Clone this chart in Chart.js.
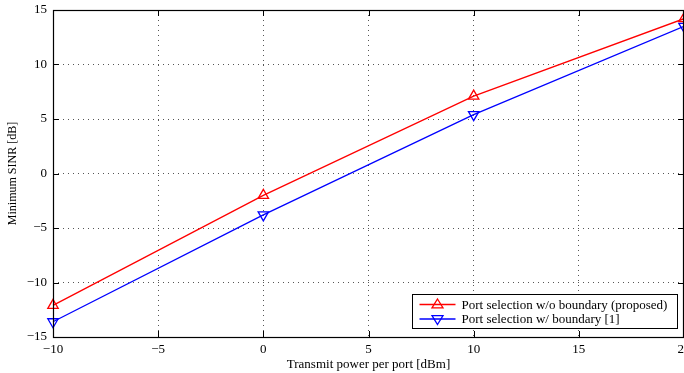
<!DOCTYPE html>
<html>
<head>
<meta charset="utf-8">
<script src="https://cdn.jsdelivr.net/npm/chart.js@4.4.0/dist/chart.umd.min.js"></script>
<style>
  html, body { margin: 0; padding: 0; background: #fff; }
  #wrap { width: 684px; height: 373px; }
</style>
</head>
<body>
<div id="wrap"><canvas id="myChart" width="684" height="373"></canvas></div>
<script>
// data
let powerDbm = [-10, 0, 10, 20];
let sinrProposed = [-12.1, -2.0, 7.1, 14.2];
let sinrBoundary = [-13.6, -3.8, 5.4, 13.5];
let xTicks = [-10, -5, 0, 5, 10, 15, 20];
let yTicks = [-15, -10, -5, 0, 5, 10, 15];

let serif = '"Liberation Serif", "Times New Roman", serif';
let minus = v => String(v).replace('-', '\u2212');

// MATLAB style box, inside ticks and legend
let matlabBox = {
    id: 'matlabBox',
    afterDraw(chart) {
        let ctx = chart.ctx;
        let a = chart.chartArea;
        let xs = chart.scales.x, ys = chart.scales.y;
        ctx.save();
        ctx.strokeStyle = '#000';
        ctx.lineWidth = 1;
        ctx.beginPath();
        xTicks.forEach(t => {
            let px = Math.round(xs.getPixelForValue(t)) + 0.5;
            ctx.moveTo(px, a.bottom); ctx.lineTo(px, a.bottom - 6);
            ctx.moveTo(px, a.top); ctx.lineTo(px, a.top + 6);
        });
        yTicks.forEach(t => {
            let py = Math.round(ys.getPixelForValue(t)) + 0.5;
            ctx.moveTo(a.left, py); ctx.lineTo(a.left + 6, py);
            ctx.moveTo(a.right, py); ctx.lineTo(a.right - 6, py);
        });
        ctx.stroke();
        ctx.lineWidth = 1.2;
        ctx.strokeRect(Math.round(a.left) + 0.5, Math.round(a.top) + 0.5,
            Math.round(a.right - a.left) - 1, Math.round(a.bottom - a.top));

        // legend
        let w = 265, h = 34;
        let lx = Math.round(a.right - 7 - w) + 0.5, ly = Math.round(a.bottom - 9 - h) + 0.5;
        ctx.fillStyle = '#fff';
        ctx.fillRect(lx, ly, w, h);
        ctx.lineWidth = 1;
        ctx.strokeRect(lx, ly, w, h);
        ctx.font = '13px ' + serif;
        ctx.textBaseline = 'middle';
        chart.data.datasets.forEach((ds, i) => {
            let ry = ly + 10 + i * 14.5;
            ctx.strokeStyle = ds.borderColor;
            ctx.lineWidth = 1.3;
            ctx.beginPath();
            ctx.moveTo(lx + 7, ry); ctx.lineTo(lx + 43, ry);
            ctx.stroke();
            ctx.beginPath();
            let cx = lx + 25, r = 5.5, s = ds.pointRotation === 180 ? -1 : 1;
            ctx.moveTo(cx, ry - s * r);
            ctx.lineTo(cx + r, ry + s * r * 0.6);
            ctx.lineTo(cx - r, ry + s * r * 0.6);
            ctx.closePath();
            ctx.stroke();
            ctx.fillStyle = '#000';
            ctx.fillText(ds.label, lx + 49, ry + 1);
        });
        ctx.restore();
    }
};

let ctx = document.getElementById('myChart').getContext('2d');
let chart = new Chart(ctx, {
    type: 'line',
    data: {
        datasets: [{
            label: 'Port selection w/o boundary (proposed)',
            data: powerDbm.map((x, i) => ({ x: x, y: sinrProposed[i] })),
            borderColor: 'rgb(255, 0, 0)',
            backgroundColor: 'rgb(255, 0, 0)',
            borderWidth: 1.3,
            pointStyle: 'triangle',
            pointRadius: 6,
            pointBorderWidth: 1.3,
            pointBackgroundColor: 'rgba(0,0,0,0)',
            pointRotation: 0,
            tension: 0
        }, {
            label: 'Port selection w/ boundary [1]',
            data: powerDbm.map((x, i) => ({ x: x, y: sinrBoundary[i] })),
            borderColor: 'rgb(0, 0, 255)',
            backgroundColor: 'rgb(0, 0, 255)',
            borderWidth: 1.3,
            pointStyle: 'triangle',
            pointRadius: 6,
            pointBorderWidth: 1.3,
            pointBackgroundColor: 'rgba(0,0,0,0)',
            pointRotation: 180,
            tension: 0
        }]
    },
    options: {
        responsive: false,
        animation: false,
        clip: false,
        layout: { autoPadding: false, padding: { top: 10, right: 0, left: 0, bottom: 0 } },
        plugins: { legend: { display: false }, tooltip: { enabled: false } },
        scales: {
            x: {
                type: 'linear',
                min: -10, max: 20,
                afterBuildTicks: s => { s.ticks = xTicks.map(v => ({ value: v })); },
                afterFit: s => { s.height = 36; s.paddingLeft = 0; s.paddingRight = 0; },
                grid: {
                    color: c => (c.tick && (c.tick.value === -10 || c.tick.value === 20)) ? 'rgba(0,0,0,0)' : '#555',
                    lineWidth: 1,
                    drawTicks: false
                },
                border: { display: false, dash: [1, 4] },
                ticks: {
                    padding: 5,
                    maxRotation: 0,
                    autoSkip: false,
                    color: '#000',
                    font: { family: serif, size: 13 },
                    callback: v => minus(v)
                },
                title: {
                    display: true,
                    text: 'Transmit power per port [dBm]',
                    color: '#000',
                    font: { family: serif, size: 13 },
                    padding: { top: 0, bottom: 1 }
                }
            },
            y: {
                type: 'linear',
                min: -15, max: 15,
                afterBuildTicks: s => { s.ticks = yTicks.map(v => ({ value: v })); },
                afterFit: s => { s.width = 53; s.paddingTop = 0; s.paddingBottom = 0; },
                grid: {
                    color: c => (c.tick && (c.tick.value === -15 || c.tick.value === 15)) ? 'rgba(0,0,0,0)' : '#555',
                    lineWidth: 1,
                    drawTicks: false
                },
                border: { display: false, dash: [1, 4] },
                ticks: {
                    padding: 6,
                    color: '#000',
                    font: { family: serif, size: 13 },
                    callback: v => minus(v)
                },
                title: {
                    display: true,
                    text: 'Minimum SINR [dB]',
                    color: '#000',
                    font: { family: serif, size: 12 },
                    padding: { top: 6, bottom: 0 }
                }
            }
        }
    },
    plugins: [matlabBox]
});
</script>
</body>
</html>
